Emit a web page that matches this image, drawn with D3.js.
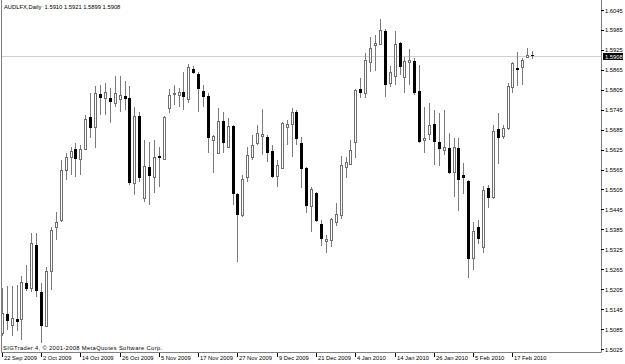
<!DOCTYPE html>
<html>
<head>
<meta charset="utf-8">
<script src="https://cdn.jsdelivr.net/npm/d3@7"></script>
<style>
    body { margin: 0; background: #ffffff; }
    svg { display: block; }
    text { font-family: "Liberation Sans", Arial, sans-serif; font-size: 5.8px; fill: #000000; }
</style>
</head>
<body>
<script>

//Cotações diárias (abertura, máxima, mínima, fechamento), de 22 Sep 2009 até 23 Feb 2010
const aberturas = [
    1.5072, 1.5129, 1.5096, 1.5114, 1.5114, 1.5223, 1.5208, 1.5338, 1.5196, 1.5093,
    1.5259, 1.5392, 1.5413, 1.5564, 1.5603, 1.5627, 1.5597, 1.5627, 1.5724, 1.5694,
    1.5793, 1.5781, 1.5781, 1.5766, 1.5778, 1.5787, 1.5781, 1.5525, 1.5727, 1.5480,
    1.5573, 1.5543, 1.5606, 1.5597, 1.5751, 1.5793, 1.5789, 1.5799, 1.5778, 1.5866,
    1.5851, 1.5802, 1.5787, 1.5654, 1.5615, 1.5712, 1.5633, 1.5697, 1.5492, 1.5428,
    1.5543, 1.5603, 1.5645, 1.5667, 1.5664, 1.5621, 1.5546, 1.5570, 1.5694, 1.5703,
    1.5739, 1.5645, 1.5570, 1.5455, 1.5495, 1.5401, 1.5350, 1.5353, 1.5407, 1.5428,
    1.5573, 1.5582, 1.5648, 1.5808, 1.5796, 1.5887, 1.5941, 1.5944, 1.5983, 1.5826,
    1.5845, 1.5947, 1.5842, 1.5887, 1.5890, 1.5802, 1.5654, 1.5673, 1.5703, 1.5648,
    1.5624, 1.5630, 1.5558, 1.5630, 1.5549, 1.5531, 1.5298, 1.5392, 1.5332, 1.5510,
    1.5483, 1.5688, 1.5667, 1.5691, 1.5814, 1.5869, 1.5872, 1.5905, 1.5910
];

const maximas = [
    1.5208, 1.5214, 1.5214, 1.5217, 1.5244, 1.5277, 1.5374, 1.5374, 1.5223, 1.5271,
    1.5392, 1.5437, 1.5594, 1.5615, 1.5633, 1.5645, 1.5639, 1.5730, 1.5796, 1.5817,
    1.5820, 1.5826, 1.5811, 1.5845, 1.5845, 1.5830, 1.5817, 1.5754, 1.5739, 1.5654,
    1.5648, 1.5654, 1.5633, 1.5727, 1.5808, 1.5820, 1.5811, 1.5857, 1.5881, 1.5875,
    1.5857, 1.5820, 1.5796, 1.5669, 1.5751, 1.5739, 1.5721, 1.5700, 1.5495, 1.5549,
    1.5633, 1.5669, 1.5700, 1.5748, 1.5669, 1.5639, 1.5594, 1.5709, 1.5715, 1.5751,
    1.5745, 1.5663, 1.5573, 1.5513, 1.5498, 1.5413, 1.5368, 1.5419, 1.5464, 1.5606,
    1.5603, 1.5654, 1.5808, 1.5839, 1.5917, 1.5965, 1.5971, 1.6017, 1.5989, 1.5875,
    1.5983, 1.5950, 1.5905, 1.5929, 1.5902, 1.5878, 1.5754, 1.5766, 1.5745, 1.5736,
    1.5745, 1.5676, 1.5660, 1.5660, 1.5585, 1.5534, 1.5407, 1.5413, 1.5516, 1.5519,
    1.5700, 1.5736, 1.5700, 1.5826, 1.5887, 1.5920, 1.5902, 1.5932, 1.5921
];

const minimas = [
    1.5063, 1.5081, 1.5063, 1.5078, 1.5051, 1.5199, 1.5196, 1.5181, 1.5042, 1.5090,
    1.5202, 1.5353, 1.5407, 1.5534, 1.5549, 1.5543, 1.5549, 1.5624, 1.5660, 1.5630,
    1.5730, 1.5730, 1.5706, 1.5754, 1.5739, 1.5745, 1.5519, 1.5489, 1.5528, 1.5467,
    1.5458, 1.5495, 1.5513, 1.5594, 1.5736, 1.5760, 1.5754, 1.5745, 1.5766, 1.5851,
    1.5739, 1.5754, 1.5615, 1.5555, 1.5612, 1.5615, 1.5630, 1.5458, 1.5286, 1.5422,
    1.5528, 1.5594, 1.5639, 1.5609, 1.5588, 1.5540, 1.5513, 1.5567, 1.5639, 1.5603,
    1.5639, 1.5510, 1.5434, 1.5377, 1.5407, 1.5335, 1.5313, 1.5332, 1.5395, 1.5416,
    1.5540, 1.5579, 1.5600, 1.5781, 1.5781, 1.5857, 1.5860, 1.5941, 1.5784, 1.5814,
    1.5820, 1.5848, 1.5796, 1.5820, 1.5790, 1.5645, 1.5615, 1.5654, 1.5579, 1.5576,
    1.5609, 1.5552, 1.5483, 1.5440, 1.5492, 1.5238, 1.5262, 1.5341, 1.5313, 1.5449,
    1.5477, 1.5582, 1.5657, 1.5685, 1.5796, 1.5817, 1.5820, 1.5905, 1.5899
];

const fechamentos = [
    1.5132, 1.5108, 1.5117, 1.5105, 1.5226, 1.5205, 1.5344, 1.5199, 1.5093, 1.5259,
    1.5383, 1.5407, 1.5564, 1.5603, 1.5621, 1.5597, 1.5627, 1.5718, 1.5691, 1.5796,
    1.5781, 1.5799, 1.5769, 1.5796, 1.5790, 1.5778, 1.5525, 1.5727, 1.5540, 1.5576,
    1.5546, 1.5603, 1.5600, 1.5724, 1.5790, 1.5794, 1.5798, 1.5784, 1.5872, 1.5854,
    1.5808, 1.5784, 1.5660, 1.5666, 1.5712, 1.5645, 1.5697, 1.5492, 1.5428, 1.5537,
    1.5609, 1.5639, 1.5676, 1.5673, 1.5615, 1.5543, 1.5579, 1.5706, 1.5703, 1.5739,
    1.5657, 1.5567, 1.5455, 1.5507, 1.5410, 1.5356, 1.5356, 1.5416, 1.5431, 1.5579,
    1.5588, 1.5624, 1.5805, 1.5796, 1.5893, 1.5932, 1.5947, 1.5986, 1.5820, 1.5857,
    1.5944, 1.5872, 1.5890, 1.5893, 1.5796, 1.5648, 1.5660, 1.5700, 1.5648, 1.5627,
    1.5633, 1.5555, 1.5633, 1.5534, 1.5540, 1.5295, 1.5380, 1.5356, 1.5504, 1.5480,
    1.5682, 1.5660, 1.5691, 1.5817, 1.5884, 1.5863, 1.5893, 1.5911, 1.5908
];

//Rótulos do eixo de datas, um a cada 8 barras
const rotulosDatas = [
    "22 Sep 2009", "2 Oct 2009", "14 Oct 2009", "26 Oct 2009", "5 Nov 2009", "17 Nov 2009", "27 Nov 2009",
    "9 Dec 2009", "21 Dec 2009", "4 Jan 2010", "14 Jan 2010", "26 Jan 2010", "5 Feb 2010", "17 Feb 2010"
];
const barrasPorRotulo = 8;

//Rótulos do eixo de preços
const rotulosPrecos = [
    1.5025, 1.5085, 1.5145, 1.5205, 1.5265, 1.5325, 1.5385, 1.5445, 1.5505,
    1.5565, 1.5625, 1.5685, 1.5745, 1.5805, 1.5865, 1.5925, 1.5985, 1.6045
];

const simbolo = "AUDLFX,Daily";
const precoAtual = 1.5908;
const copyright = "SIGTrader 4, \u00a9 2001-2008 MetaQuotes Software Corp.";


const largura = 625, altura = 364;
const direitaGrafico = 601, baseGrafico = 352;

const svg = d3.select("body").append("svg")
    .attr("width", largura)
    .attr("height", altura);

svg.append("rect")
    .attr("width", largura)
    .attr("height", altura)
    .attr("fill", "#ffffff");

const barras = aberturas.map((a, i) => ({
    indice: i,
    abertura: a,
    maxima: maximas[i],
    minima: minimas[i],
    fechamento: fechamentos[i]
}));

const x = d3.scaleLinear()
    .domain([0, barras.length - 1])
    .range([2.3, 532.6]);

const y = d3.scaleLinear()
    .domain([1.5016, 1.6069])
    .range([baseGrafico, 2]);

const coluna = i => Math.floor(x(i));


//Linha do preço atual (bid)
svg.append("line")
    .attr("x1", 2).attr("x2", direitaGrafico)
    .attr("y1", Math.round(y(precoAtual)) + 0.5)
    .attr("y2", Math.round(y(precoAtual)) + 0.5)
    .attr("stroke", "#d0d0d0")
    .attr("stroke-width", 1);


//Candles
const gCandles = svg.append("g").attr("shape-rendering", "crispEdges");

const candle = gCandles.selectAll(".candle")
    .data(barras)
    .enter()
        .append("g")
            .attr("class", "candle");

//Pavio
candle.append("rect")
    .attr("x", d => coluna(d.indice))
    .attr("y", d => Math.round(y(d.maxima)))
    .attr("width", 1)
    .attr("height", d => Math.max(1, Math.round(y(d.minima)) - Math.round(y(d.maxima))))
    .attr("fill", "#7a7a7a");

//Corpo: preto quando cai, branco contornado quando sobe
candle.append("rect")
    .attr("x", d => d.fechamento < d.abertura ? coluna(d.indice) - 1 : coluna(d.indice) - 0.5)
    .attr("y", d => {
        let topo = Math.round(y(Math.max(d.abertura, d.fechamento)));
        return d.fechamento < d.abertura ? topo : topo + 0.5;
    })
    .attr("width", d => d.fechamento < d.abertura ? 3 : 2)
    .attr("height", d => {
        let h = Math.round(y(Math.min(d.abertura, d.fechamento))) - Math.round(y(Math.max(d.abertura, d.fechamento)));
        return d.fechamento < d.abertura ? Math.max(1, h) : Math.max(0, h);
    })
    .attr("fill", d => d.fechamento < d.abertura ? "#000000" : "#ffffff")
    .attr("stroke", d => d.fechamento < d.abertura ? "none" : "#6e6e6e")
    .attr("stroke-width", 1);


//Moldura
svg.append("line")
    .attr("x1", 1.5).attr("x2", 1.5)
    .attr("y1", 0).attr("y2", baseGrafico + 0.5)
    .attr("stroke", "#808080");

svg.append("line")
    .attr("x1", 1).attr("x2", direitaGrafico + 0.5)
    .attr("y1", baseGrafico + 0.5).attr("y2", baseGrafico + 0.5)
    .attr("stroke", "#808080");

svg.append("line")
    .attr("x1", direitaGrafico + 0.5).attr("x2", direitaGrafico + 0.5)
    .attr("y1", 0).attr("y2", baseGrafico + 0.5)
    .attr("stroke", "#808080");


//Eixo de preços
const eixoPrecos = svg.append("g")
    .attr("transform", `translate(${direitaGrafico},0)`)
    .call(d3.axisRight(y)
        .tickValues(rotulosPrecos)
        .tickFormat(d3.format(".4f"))
        .tickSize(3)
        .tickPadding(1));

eixoPrecos.select(".domain").remove();
eixoPrecos.selectAll(".tick line").attr("stroke", "#000000").attr("shape-rendering", "crispEdges");
eixoPrecos.selectAll(".tick text")
    .attr("font-family", null)
    .attr("font-size", null)
    .attr("dy", "0.35em");

//Caixa com o preço atual
const yAtual = Math.round(y(precoAtual));
svg.append("rect")
    .attr("x", direitaGrafico + 2)
    .attr("y", yAtual - 3)
    .attr("width", 20)
    .attr("height", 7)
    .attr("fill", "#000000");

svg.append("text")
    .attr("x", direitaGrafico + 4)
    .attr("y", yAtual + 2.6)
    .style("fill", "#ffffff")
    .text(d3.format(".4f")(precoAtual));


//Eixo de datas
const datas = svg.append("g").attr("class", "datas");

const rotulo = datas.selectAll(".data")
    .data(rotulosDatas)
    .enter()
        .append("g")
            .attr("class", "data")
            .attr("transform", (d, k) => `translate(${coluna(k * barrasPorRotulo)},0)`);

rotulo.append("rect")
    .attr("x", 0)
    .attr("y", baseGrafico + 1)
    .attr("width", 1)
    .attr("height", 4)
    .attr("fill", "#000000")
    .attr("shape-rendering", "crispEdges");

rotulo.append("text")
    .attr("x", 2)
    .attr("y", 360)
    .text(d => d);


//Textos do cabeçalho e rodapé
svg.append("text")
    .attr("x", 4)
    .attr("y", 9)
    .attr("xml:space", "preserve")
    .text(`${simbolo}  ${[aberturas, maximas, minimas, fechamentos].map(s => s[s.length - 1].toFixed(4)).join(" ")}`);

svg.append("text")
    .attr("x", 3)
    .attr("y", 350)
    .attr("letter-spacing", 0.35)
    .text(copyright);

</script>
</body>
</html>
